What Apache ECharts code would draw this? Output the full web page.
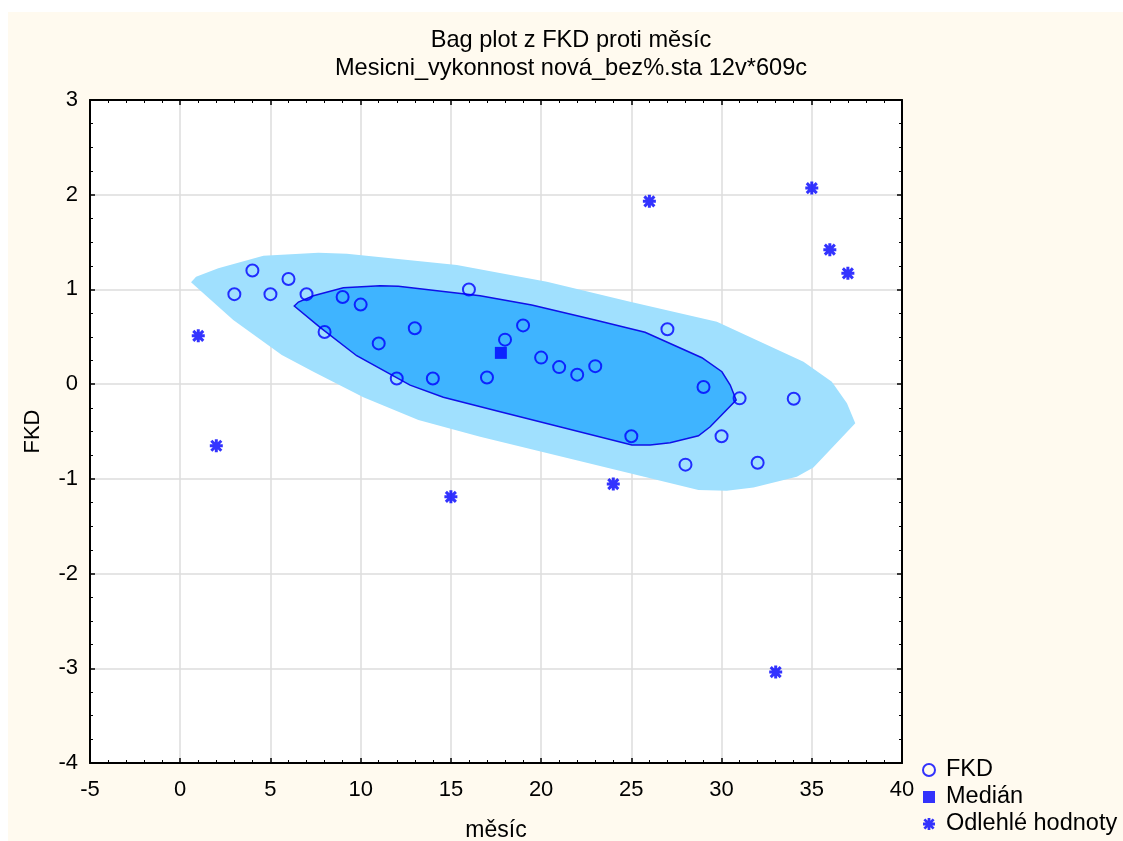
<!DOCTYPE html>
<html>
<head>
<meta charset="utf-8">
<script src="https://cdn.jsdelivr.net/npm/echarts@6/dist/echarts.min.js"></script>
<style>
html,body{margin:0;padding:0;background:#fff;}
#chart{width:1123px;height:841px;}
</style>
</head>
<body>
<div id="chart"></div>
<script>
// ---- data ----
const titleLine1 = 'Bag plot z FKD proti měsíc';
const titleLine2 = 'Mesicni_vykonnost nová_bez%.sta 12v*609c';
const xName = 'měsíc';
const yName = 'FKD';
const legendNames = ['FKD', 'Medián', 'Odlehlé hodnoty'];

const xTicks = [-5, 0, 5, 10, 15, 20, 25, 30, 35, 40];
const yTicks = [-4, -3, -2, -1, 0, 1, 2, 3];

const fkdMonths = [3, 4, 5, 6, 7, 8, 9, 10, 11, 12, 13, 14, 16, 17, 18, 19, 20, 21, 22, 23, 25, 27, 28, 29, 30, 31, 32, 34];
const fkdValues = [0.95, 1.20, 0.95, 1.11, 0.95, 0.55, 0.92, 0.84, 0.43, 0.06, 0.59, 0.06, 1.00, 0.07, 0.47, 0.62, 0.28, 0.18, 0.10, 0.19, -0.55, 0.58, -0.85, -0.03, -0.55, -0.15, -0.83, -0.155];

const medianMonth = [17.77];
const medianValue = [0.33];

const outlierMonths = [1, 2, 15, 24, 26, 33, 35, 36, 37];
const outlierValues = [0.51, -0.65, -1.19, -1.055, 1.93, -3.04, 2.07, 1.42, 1.17];

// bag (inner polygon)
const bagX = [6.32, 6.55, 7.38, 9.04, 11.08, 12.09, 16.62, 19.48, 22.99, 25.76, 28.91, 30.02, 30.48, 30.81, 29.37, 28.72, 27.15, 26.04, 25.03, 17.73, 14.58, 12.74, 9.78, 7.75];
const bagY = [0.825, 0.867, 0.933, 1.018, 1.039, 1.033, 0.933, 0.835, 0.677, 0.547, 0.279, 0.131, -0.01, -0.168, -0.45, -0.545, -0.619, -0.643, -0.643, -0.291, -0.139, -0.01, 0.30, 0.60];

// fence / loop (outer polygon)
const fenceX = [0.60, 0.88, 2.11, 4.61, 7.66, 9.23, 15.33, 20.32, 24.93, 29.74, 34.54, 36.11, 36.95, 37.41, 35.09, 34.17, 31.77, 30.29, 28.72, 16.62, 13.20, 10.15, 7.38, 5.63, 2.94];
const fenceY = [1.075, 1.134, 1.223, 1.356, 1.388, 1.377, 1.258, 1.081, 0.870, 0.659, 0.237, 0.025, -0.203, -0.414, -0.879, -0.978, -1.090, -1.126, -1.118, -0.555, -0.379, -0.139, 0.131, 0.307, 0.677];

// ---- chart ----
const FONT = '"Liberation Sans", Arial, sans-serif';
const BLUE = '#0000ff';
const STAR = 'path://M5 0L8 0L8 13L5 13Z M0 5L13 5L13 8L0 8Z M0.44 2.56L2.56 0.44L12.56 10.44L10.44 12.56Z M10.44 0.44L12.56 2.56L2.56 12.56L0.44 10.44Z';

function pairs(xs, ys) { return xs.map((x, i) => [x, ys[i]]); }

function polygonSeries(xs, ys, style, z) {
  return {
    type: 'custom',
    silent: true,
    z: z,
    xAxisIndex: 0, yAxisIndex: 0,
    data: [[xs[0], ys[0]]],
    renderItem: function (params, api) {
      const pts = xs.map((x, i) => api.coord([x, ys[i]]));
      return { type: 'polygon', shape: { points: pts }, style: style };
    }
  };
}

const xMin = xTicks[0], xMax = xTicks[xTicks.length - 1];
const yMin = yTicks[0], yMax = yTicks[yTicks.length - 1];

function xAxisDef(pos, labels) {
  return {
    type: 'value', position: pos, min: xMin, max: xMax, interval: 5,
    axisLine: { show: true, onZero: false, lineStyle: { color: '#000', width: 2 } },
    axisTick: { show: true, inside: true, length: 5, lineStyle: { color: '#000', width: 1.5 } },
    minorTick: { show: true, splitNumber: 5, length: 3, lineStyle: { color: '#000', width: 1 } },
    axisLabel: { show: labels, color: '#000', fontSize: 22, fontFamily: FONT, margin: 16 },
    splitLine: { show: labels, lineStyle: { color: '#dcdcdc', width: 1.5 } },
    name: labels ? xName : '', nameLocation: 'middle', nameGap: 56,
    nameTextStyle: { color: '#000', fontSize: 23, fontFamily: FONT }
  };
}
function yAxisDef(pos, labels) {
  return {
    type: 'value', position: pos, min: yMin, max: yMax, interval: 1,
    axisLine: { show: true, onZero: false, lineStyle: { color: '#000', width: 2 } },
    axisTick: { show: true, inside: true, length: 5, lineStyle: { color: '#000', width: 1.5 } },
    minorTick: { show: true, splitNumber: 4, length: 3, lineStyle: { color: '#000', width: 1 } },
    axisLabel: { show: labels, color: '#000', fontSize: 22, fontFamily: FONT, margin: 12 },
    splitLine: { show: labels, lineStyle: { color: '#dcdcdc', width: 1.5 } },
    name: labels ? yName : '', nameLocation: 'middle', nameGap: 46, nameRotate: 90,
    nameTextStyle: { color: '#000', fontSize: 22, fontFamily: FONT }
  };
}

const chart = echarts.init(document.getElementById('chart'), null, { renderer: 'canvas' });
chart.setOption({
  backgroundColor: '#ffffff',
  animation: false,
  textStyle: { fontFamily: FONT },
  graphic: [
    { type: 'rect', z: -100, silent: true, shape: { x: 8, y: 12, width: 1115, height: 829 }, style: { fill: '#fffaef' } },
    { type: 'text', z: 100, style: { text: titleLine1, x: 571, y: 40, align: 'center', verticalAlign: 'middle', fill: '#000', font: '23.6px ' + FONT } },
    { type: 'text', z: 100, style: { text: titleLine2, x: 571, y: 68, align: 'center', verticalAlign: 'middle', fill: '#000', font: '23.6px ' + FONT } }
  ],
  grid: { left: 90, right: 221, top: 100, bottom: 78, show: true, backgroundColor: '#ffffff', borderWidth: 0, containLabel: false, outerBoundsMode: 'none' },
  xAxis: [xAxisDef('bottom', true), xAxisDef('top', false)],
  yAxis: [yAxisDef('left', true), yAxisDef('right', false)],
  legend: {
    orient: 'vertical', left: 922, top: 758, padding: 0, itemGap: 3,
    itemWidth: 12, itemHeight: 12,
    data: legendNames,
    textStyle: { color: '#000', fontSize: 23.5, fontFamily: FONT, padding: [0, 0, 0, 6] },
    selectedMode: false
  },
  series: [
    polygonSeries(fenceX, fenceY, { fill: '#a0e0fe' }, 1),
    polygonSeries(bagX, bagY, { fill: '#3fb4ff', stroke: '#1010e8', lineWidth: 1.5 }, 2),
    {
      name: legendNames[0], type: 'scatter', z: 5,
      symbol: 'circle', symbolSize: 12,
      itemStyle: { color: 'rgba(0,0,0,0)', borderColor: BLUE, borderWidth: 2 },
      data: pairs(fkdMonths, fkdValues)
    },
    {
      name: legendNames[1], type: 'scatter', z: 5,
      symbol: 'rect', symbolSize: 12,
      itemStyle: { color: BLUE },
      data: pairs(medianMonth, medianValue)
    },
    {
      name: legendNames[2], type: 'scatter', z: 5,
      symbol: STAR, symbolSize: 13,
      itemStyle: { color: BLUE },
      data: pairs(outlierMonths, outlierValues)
    }
  ]
});
</script>
</body>
</html>
